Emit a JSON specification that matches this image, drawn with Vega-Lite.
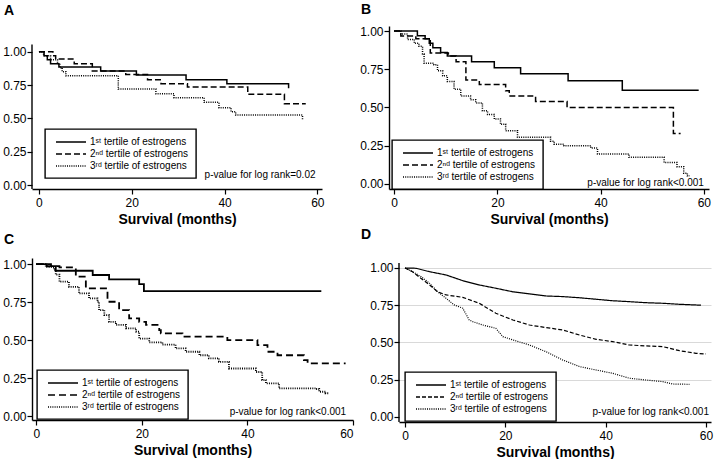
{
  "$schema": "https://vega.github.io/schema/vega-lite/v6.json",
  "background": "white",
  "padding": {"left": 2, "top": 3, "right": 2, "bottom": 0},
  "config": {
    "font": "Liberation Sans",
    "view": {"stroke": null},
    "axis": {
      "domainColor": "black", "domainWidth": 1.4, "tickColor": "black", "tickWidth": 1.2, "tickSize": 5,
      "labelColor": "black", "labelFontSize": 12, "labelFont": "Liberation Sans",
      "titleFontSize": 14, "titleFontWeight": "bold", "titleColor": "black", "titleFont": "Liberation Sans",
      "grid": false
    },
    "axisY": {"labelPadding": 1},
    "axisX": {"labelPadding": 3, "titlePadding": 4},
    "title": {"anchor": "start", "frame": "group", "fontSize": 14, "fontWeight": "bold", "color": "black", "font": "Liberation Sans"},
    "legend": {
      "title": null, "strokeColor": "black", "strokeWidth": 1.4, "padding": 7, "fillColor": "white",
      "symbolType": "M-3,0H3", "symbolSize": 100, "symbolStrokeColor": "black", "symbolStrokeWidth": 1.5,
      "symbolOffset": 13, "labelOffset": 13, "labelFontSize": 10, "labelColor": "black", "labelFont": "Liberation Sans",
      "rowPadding": 1, "labelBaseline": "middle"
    }
  },
  "datasets": {
    "A": [
      {"g": "1", "t": 0, "s": 1}, {"g": "1", "t": 1.1, "s": 0.97}, {"g": "1", "t": 1.8, "s": 0.94}, {"g": "1", "t": 2.5, "s": 0.91}, {"g": "1", "t": 4.3, "s": 0.885}, {"g": "1", "t": 13.3, "s": 0.855}, {"g": "1", "t": 21, "s": 0.825}, {"g": "1", "t": 31.7, "s": 0.79}, {"g": "1", "t": 40.5, "s": 0.76}, {"g": "1", "t": 53.8, "s": 0.725},
      {"g": "2", "t": 0, "s": 1}, {"g": "2", "t": 3, "s": 0.97}, {"g": "2", "t": 3.6, "s": 0.945}, {"g": "2", "t": 7.6, "s": 0.91}, {"g": "2", "t": 11.5, "s": 0.855}, {"g": "2", "t": 18.7, "s": 0.83}, {"g": "2", "t": 23.4, "s": 0.79}, {"g": "2", "t": 26.3, "s": 0.76}, {"g": "2", "t": 32, "s": 0.735}, {"g": "2", "t": 45, "s": 0.68}, {"g": "2", "t": 52.9, "s": 0.61}, {"g": "2", "t": 57.5, "s": 0.61},
      {"g": "3", "t": 0, "s": 1}, {"g": "3", "t": 1, "s": 0.97}, {"g": "3", "t": 2.5, "s": 0.94}, {"g": "3", "t": 4, "s": 0.91}, {"g": "3", "t": 4.5, "s": 0.88}, {"g": "3", "t": 5, "s": 0.85}, {"g": "3", "t": 5.8, "s": 0.82}, {"g": "3", "t": 17.1, "s": 0.72}, {"g": "3", "t": 25.2, "s": 0.685}, {"g": "3", "t": 29.1, "s": 0.655}, {"g": "3", "t": 35.6, "s": 0.62}, {"g": "3", "t": 38.8, "s": 0.58}, {"g": "3", "t": 41.4, "s": 0.55}, {"g": "3", "t": 42.4, "s": 0.525}, {"g": "3", "t": 56.8, "s": 0.49}
    ],
    "B": [
      {"g": "1", "t": 0, "s": 1}, {"g": "1", "t": 4.5, "s": 0.97}, {"g": "1", "t": 6, "s": 0.95}, {"g": "1", "t": 6.8, "s": 0.92}, {"g": "1", "t": 7.5, "s": 0.89}, {"g": "1", "t": 9, "s": 0.86}, {"g": "1", "t": 10.3, "s": 0.837}, {"g": "1", "t": 15, "s": 0.8}, {"g": "1", "t": 19.4, "s": 0.76}, {"g": "1", "t": 24.5, "s": 0.72}, {"g": "1", "t": 33.7, "s": 0.675}, {"g": "1", "t": 44.2, "s": 0.613}, {"g": "1", "t": 59, "s": 0.613},
      {"g": "2", "t": 0, "s": 1}, {"g": "2", "t": 1.3, "s": 0.967}, {"g": "2", "t": 4.2, "s": 0.95}, {"g": "2", "t": 7, "s": 0.857}, {"g": "2", "t": 10.5, "s": 0.837}, {"g": "2", "t": 12, "s": 0.8}, {"g": "2", "t": 13.9, "s": 0.68}, {"g": "2", "t": 16.5, "s": 0.65}, {"g": "2", "t": 21.6, "s": 0.61}, {"g": "2", "t": 22.3, "s": 0.576}, {"g": "2", "t": 27.4, "s": 0.54}, {"g": "2", "t": 33.5, "s": 0.5}, {"g": "2", "t": 54.1, "s": 0.33}, {"g": "2", "t": 55.5, "s": 0.33},
      {"g": "3", "t": 0, "s": 1}, {"g": "3", "t": 1.3, "s": 0.98}, {"g": "3", "t": 2.6, "s": 0.945}, {"g": "3", "t": 3.9, "s": 0.92}, {"g": "3", "t": 4.8, "s": 0.9}, {"g": "3", "t": 5.5, "s": 0.85}, {"g": "3", "t": 5.8, "s": 0.79}, {"g": "3", "t": 7.7, "s": 0.78}, {"g": "3", "t": 8.4, "s": 0.74}, {"g": "3", "t": 9.4, "s": 0.707}, {"g": "3", "t": 10.3, "s": 0.67}, {"g": "3", "t": 11.6, "s": 0.62}, {"g": "3", "t": 12.9, "s": 0.576}, {"g": "3", "t": 14.8, "s": 0.55}, {"g": "3", "t": 15.8, "s": 0.53}, {"g": "3", "t": 17.1, "s": 0.478}, {"g": "3", "t": 18.1, "s": 0.455}, {"g": "3", "t": 19.4, "s": 0.425}, {"g": "3", "t": 20.6, "s": 0.39}, {"g": "3", "t": 21.6, "s": 0.348}, {"g": "3", "t": 23.9, "s": 0.305}, {"g": "3", "t": 30.3, "s": 0.28}, {"g": "3", "t": 31, "s": 0.26}, {"g": "3", "t": 32.9, "s": 0.25}, {"g": "3", "t": 38.1, "s": 0.235}, {"g": "3", "t": 39.4, "s": 0.196}, {"g": "3", "t": 45.5, "s": 0.174}, {"g": "3", "t": 52.3, "s": 0.14}, {"g": "3", "t": 54.8, "s": 0.113}, {"g": "3", "t": 56.1, "s": 0.07}, {"g": "3", "t": 56.8, "s": 0.054}, {"g": "3", "t": 57.3, "s": 0.054}
    ],
    "C": [
      {"g": "1", "t": 0, "s": 1}, {"g": "1", "t": 2, "s": 0.987}, {"g": "1", "t": 3.7, "s": 0.956}, {"g": "1", "t": 10.7, "s": 0.928}, {"g": "1", "t": 13.8, "s": 0.9}, {"g": "1", "t": 19.5, "s": 0.868}, {"g": "1", "t": 20.4, "s": 0.822}, {"g": "1", "t": 54, "s": 0.822},
      {"g": "2", "t": 0, "s": 1}, {"g": "2", "t": 2.8, "s": 0.987}, {"g": "2", "t": 4.4, "s": 0.978}, {"g": "2", "t": 7.5, "s": 0.917}, {"g": "2", "t": 9.4, "s": 0.84}, {"g": "2", "t": 13.5, "s": 0.752}, {"g": "2", "t": 15.7, "s": 0.697}, {"g": "2", "t": 17.6, "s": 0.643}, {"g": "2", "t": 19.5, "s": 0.62}, {"g": "2", "t": 20.8, "s": 0.6}, {"g": "2", "t": 23.3, "s": 0.566}, {"g": "2", "t": 23.6, "s": 0.544}, {"g": "2", "t": 27.7, "s": 0.522}, {"g": "2", "t": 36.2, "s": 0.5}, {"g": "2", "t": 41.9, "s": 0.467}, {"g": "2", "t": 43.8, "s": 0.423}, {"g": "2", "t": 45.7, "s": 0.4}, {"g": "2", "t": 50.7, "s": 0.368}, {"g": "2", "t": 51.4, "s": 0.346}, {"g": "2", "t": 58.6, "s": 0.346},
      {"g": "3", "t": 0, "s": 1}, {"g": "3", "t": 1.8, "s": 0.98}, {"g": "3", "t": 3.4, "s": 0.96}, {"g": "3", "t": 3.7, "s": 0.93}, {"g": "3", "t": 4.4, "s": 0.884}, {"g": "3", "t": 6.2, "s": 0.85}, {"g": "3", "t": 8.1, "s": 0.807}, {"g": "3", "t": 10, "s": 0.774}, {"g": "3", "t": 11.6, "s": 0.752}, {"g": "3", "t": 11.9, "s": 0.697}, {"g": "3", "t": 12.9, "s": 0.664}, {"g": "3", "t": 13.8, "s": 0.62}, {"g": "3", "t": 15.1, "s": 0.6}, {"g": "3", "t": 17, "s": 0.577}, {"g": "3", "t": 18.9, "s": 0.555}, {"g": "3", "t": 19.5, "s": 0.51}, {"g": "3", "t": 21.4, "s": 0.485}, {"g": "3", "t": 23.9, "s": 0.47}, {"g": "3", "t": 26.4, "s": 0.445}, {"g": "3", "t": 28.3, "s": 0.423}, {"g": "3", "t": 30.9, "s": 0.4}, {"g": "3", "t": 32.7, "s": 0.38}, {"g": "3", "t": 34.6, "s": 0.357}, {"g": "3", "t": 36.5, "s": 0.313}, {"g": "3", "t": 41.6, "s": 0.29}, {"g": "3", "t": 42.8, "s": 0.237}, {"g": "3", "t": 43.5, "s": 0.215}, {"g": "3", "t": 46, "s": 0.182}, {"g": "3", "t": 52.9, "s": 0.178}, {"g": "3", "t": 53.6, "s": 0.16}, {"g": "3", "t": 54.8, "s": 0.15}, {"g": "3", "t": 55.5, "s": 0.15}
    ],
    "D": [
      {"g": "1", "t": 0, "s": 1}, {"g": "1", "t": 2.2, "s": 0.998}, {"g": "1", "t": 4.9, "s": 0.975}, {"g": "1", "t": 8.2, "s": 0.953}, {"g": "1", "t": 11.5, "s": 0.915}, {"g": "1", "t": 14.8, "s": 0.886}, {"g": "1", "t": 18.1, "s": 0.864}, {"g": "1", "t": 21.5, "s": 0.84}, {"g": "1", "t": 24.8, "s": 0.826}, {"g": "1", "t": 28.1, "s": 0.812}, {"g": "1", "t": 31.4, "s": 0.808}, {"g": "1", "t": 34.8, "s": 0.8}, {"g": "1", "t": 38.1, "s": 0.79}, {"g": "1", "t": 41.4, "s": 0.78}, {"g": "1", "t": 44.7, "s": 0.774}, {"g": "1", "t": 48, "s": 0.767}, {"g": "1", "t": 51.4, "s": 0.763}, {"g": "1", "t": 54.7, "s": 0.756}, {"g": "1", "t": 56.4, "s": 0.754}, {"g": "1", "t": 59, "s": 0.75},
      {"g": "2", "t": 0, "s": 1}, {"g": "2", "t": 1.5, "s": 0.975}, {"g": "2", "t": 3.2, "s": 0.93}, {"g": "2", "t": 4.9, "s": 0.886}, {"g": "2", "t": 6.5, "s": 0.84}, {"g": "2", "t": 8.2, "s": 0.819}, {"g": "2", "t": 11.5, "s": 0.803}, {"g": "2", "t": 14.8, "s": 0.763}, {"g": "2", "t": 18.1, "s": 0.696}, {"g": "2", "t": 21.5, "s": 0.651}, {"g": "2", "t": 24.8, "s": 0.617}, {"g": "2", "t": 28.1, "s": 0.6}, {"g": "2", "t": 31.4, "s": 0.584}, {"g": "2", "t": 34.8, "s": 0.55}, {"g": "2", "t": 38.1, "s": 0.521}, {"g": "2", "t": 41.4, "s": 0.506}, {"g": "2", "t": 44.7, "s": 0.483}, {"g": "2", "t": 48, "s": 0.477}, {"g": "2", "t": 51.4, "s": 0.472}, {"g": "2", "t": 54.7, "s": 0.445}, {"g": "2", "t": 58, "s": 0.427}, {"g": "2", "t": 60, "s": 0.423},
      {"g": "3", "t": 0, "s": 1}, {"g": "3", "t": 1.5, "s": 0.975}, {"g": "3", "t": 3.2, "s": 0.942}, {"g": "3", "t": 4.9, "s": 0.897}, {"g": "3", "t": 6.5, "s": 0.84}, {"g": "3", "t": 8.2, "s": 0.796}, {"g": "3", "t": 9.8, "s": 0.752}, {"g": "3", "t": 11.5, "s": 0.73}, {"g": "3", "t": 12.8, "s": 0.651}, {"g": "3", "t": 13.5, "s": 0.64}, {"g": "3", "t": 15.5, "s": 0.617}, {"g": "3", "t": 18.1, "s": 0.595}, {"g": "3", "t": 19.5, "s": 0.539}, {"g": "3", "t": 21.5, "s": 0.517}, {"g": "3", "t": 24.8, "s": 0.483}, {"g": "3", "t": 28.1, "s": 0.438}, {"g": "3", "t": 31.4, "s": 0.383}, {"g": "3", "t": 34.8, "s": 0.338}, {"g": "3", "t": 38.1, "s": 0.315}, {"g": "3", "t": 41.4, "s": 0.293}, {"g": "3", "t": 44.7, "s": 0.26}, {"g": "3", "t": 48, "s": 0.248}, {"g": "3", "t": 51.4, "s": 0.237}, {"g": "3", "t": 53.4, "s": 0.221}, {"g": "3", "t": 56.7, "s": 0.219}
    ]
  },
  "spacing": 2,
  "resolve": {"scale": {"strokeDash": "independent"}, "legend": {"strokeDash": "independent"}},
  "vconcat": [
    {
      "spacing": 34,
      "resolve": {"scale": {"strokeDash": "independent"}, "legend": {"strokeDash": "independent"}},
      "hconcat": [
        {
          "title": {"text": "A", "dx": -28, "offset": 8},
          "width": 290, "height": 163,
          "layer": [
            {
              "data": {"name": "A"},
              "mark": {"type": "line", "interpolate": "step-after", "color": "black", "strokeWidth": 1.5},
              "encoding": {
                "x": {"field": "t", "type": "quantitative", "scale": {"domain": [-1.5, 61], "nice": false, "zero": false}, "axis": {"values": [0, 20, 40, 60], "title": "Survival (months)"}},
                "y": {"field": "s", "type": "quantitative", "scale": {"domain": [-0.03, 1.193], "nice": false, "zero": false}, "axis": {"values": [0, 0.25, 0.5, 0.75, 1], "format": ".2f", "title": null, "domain": false}},
                "strokeDash": {"field": "g", "type": "nominal", "scale": {"domain": ["1", "2", "3"], "range": [[1, 0], [6, 3], [1, 1.2]]}, "legend": {"orient": "none", "legendX": 13, "legendY": 103, "labelExpr": "datum.label == '1' ? '1ˢᵗ tertile of estrogens' : datum.label == '2' ? '2ⁿᵈ tertile of estrogens' : '3ʳᵈ tertile of estrogens'"}}
              }
            },
            {
              "data": {"values": [{}]},
              "mark": {"type": "rule", "color": "black", "strokeWidth": 1.4},
              "encoding": {"x": {"datum": -1.5}, "y": {"datum": -0.03}, "y2": {"datum": 1.055}}
            },
            {
              "data": {"values": [{}]},
              "mark": {"type": "text", "align": "right", "baseline": "middle", "fontSize": 10, "color": "black"},
              "encoding": {"x": {"datum": 59.6}, "y": {"datum": 0.075}, "text": {"value": "p-value for log rank=0.02"}}
            }
          ]
        },
        {
          "title": {"text": "B", "dx": -28, "offset": 8},
          "width": 320, "height": 163,
          "layer": [
            {
              "data": {"name": "B"},
              "mark": {"type": "line", "interpolate": "step-after", "color": "black", "strokeWidth": 1.5},
              "encoding": {
                "x": {"field": "t", "type": "quantitative", "scale": {"domain": [-1, 61], "nice": false, "zero": false}, "axis": {"values": [0, 20, 40, 60], "title": "Survival (months)"}},
                "y": {"field": "s", "type": "quantitative", "scale": {"domain": [-0.033, 1.033], "nice": false, "zero": false}, "axis": {"values": [0, 0.25, 0.5, 0.75, 1], "format": ".2f", "title": null}},
                "strokeDash": {"field": "g", "type": "nominal", "scale": {"domain": ["1", "2", "3"], "range": [[1, 0], [6, 3], [1, 1.2]]}, "legend": {"orient": "none", "legendX": 3, "legendY": 114, "labelExpr": "datum.label == '1' ? '1ˢᵗ tertile of estrogens' : datum.label == '2' ? '2ⁿᵈ tertile of estrogens' : '3ʳᵈ tertile of estrogens'"}}
              }
            },
            {
              "data": {"values": [{}]},
              "mark": {"type": "text", "align": "right", "baseline": "middle", "fontSize": 10, "color": "black"},
              "encoding": {"x": {"datum": 60}, "y": {"datum": 0.005}, "text": {"value": "p-value for log rank<0.001"}}
            }
          ]
        }
      ]
    },
    {
      "spacing": 7,
      "resolve": {"scale": {"strokeDash": "independent"}, "legend": {"strokeDash": "independent"}},
      "hconcat": [
        {
          "title": {"text": "C", "dx": -28, "offset": 11},
          "width": 321, "height": 162,
          "layer": [
            {
              "data": {"name": "C"},
              "mark": {"type": "line", "interpolate": "step-after", "color": "black", "strokeWidth": 1.8},
              "encoding": {
                "x": {"field": "t", "type": "quantitative", "scale": {"domain": [-0.8, 60], "nice": false, "zero": false}, "axis": {"values": [0, 20, 40, 60], "title": "Survival (months)"}},
                "y": {"field": "s", "type": "quantitative", "scale": {"domain": [-0.026, 1.04], "nice": false, "zero": false}, "axis": {"values": [0, 0.25, 0.5, 0.75, 1], "format": ".2f", "title": null}},
                "strokeDash": {"field": "g", "type": "nominal", "scale": {"domain": ["1", "2", "3"], "range": [[1, 0], [7, 4], [1, 1.2]]}, "legend": {"orient": "none", "legendX": 5, "legendY": 112, "labelExpr": "datum.label == '1' ? '1ˢᵗ tertile of estrogens' : datum.label == '2' ? '2ⁿᵈ tertile of estrogens' : '3ʳᵈ tertile of estrogens'"}}
              }
            },
            {
              "data": {"values": [{}]},
              "mark": {"type": "text", "align": "right", "baseline": "middle", "fontSize": 10, "color": "black"},
              "encoding": {"x": {"datum": 58.7}, "y": {"datum": 0.026}, "text": {"value": "p-value for log rank<0.001"}}
            }
          ]
        },
        {
          "title": {"text": "D", "dx": -38, "offset": 16},
          "width": 312, "height": 164,
          "layer": [
            {
              "data": {"name": "D"},
              "mark": {"type": "line", "interpolate": "linear", "color": "black", "strokeWidth": 1.2},
              "encoding": {
                "x": {"field": "t", "type": "quantitative", "scale": {"domain": [-1.2, 61], "nice": false, "zero": false}, "axis": {"values": [0, 20, 40, 60], "title": "Survival (months)"}},
                "y": {"field": "s", "type": "quantitative", "scale": {"domain": [-0.034, 1.067], "nice": false, "zero": false}, "axis": {"values": [0, 0.25, 0.5, 0.75, 1], "format": ".2f", "title": null, "domain": false, "grid": true, "gridColor": "#d9d9d9", "gridWidth": 1, "gridOpacity": {"condition": {"test": "datum.value == 0", "value": 0}, "value": 1}}},
                "strokeDash": {"field": "g", "type": "nominal", "scale": {"domain": ["1", "2", "3"], "range": [[1, 0], [4, 2], [1, 1.2]]}, "legend": {"orient": "none", "legendX": 6, "legendY": 114, "labelExpr": "datum.label == '1' ? '1ˢᵗ tertile of estrogens' : datum.label == '2' ? '2ⁿᵈ tertile of estrogens' : '3ʳᵈ tertile of estrogens'"}}
              }
            },
            {
              "data": {"values": [{}]},
              "mark": {"type": "rule", "color": "black", "strokeWidth": 1.4},
              "encoding": {"x": {"datum": -1.2}, "y": {"datum": -0.034}, "y2": {"datum": 1.034}}
            },
            {
              "data": {"values": [{}]},
              "mark": {"type": "text", "align": "right", "baseline": "middle", "fontSize": 10, "color": "black"},
              "encoding": {"x": {"datum": 60.6}, "y": {"datum": 0.034}, "text": {"value": "p-value for log rank<0.001"}}
            }
          ]
        }
      ]
    }
  ]
}
